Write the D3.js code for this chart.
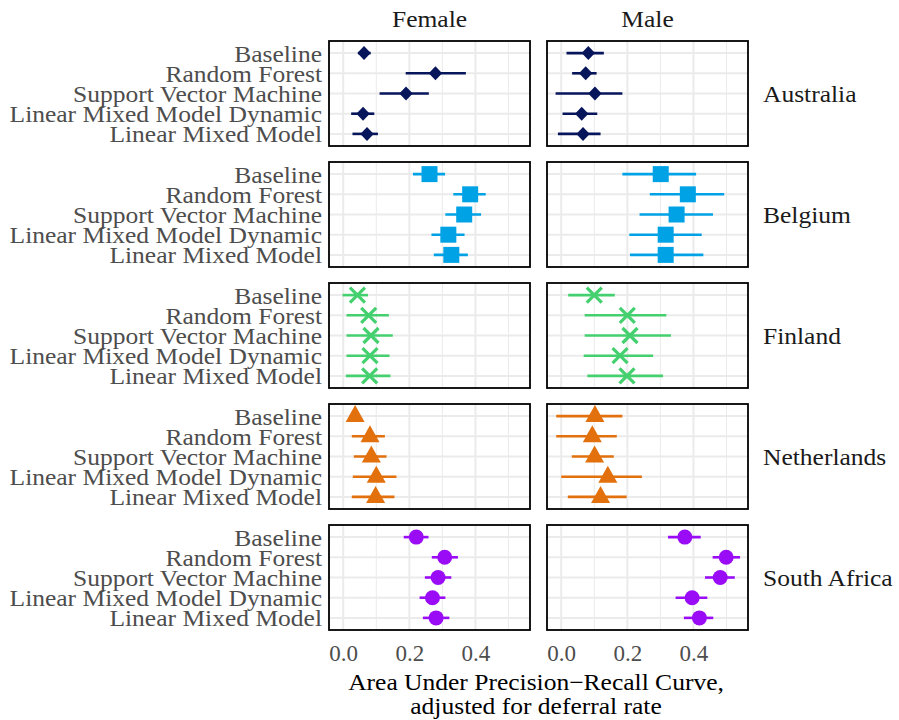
<!DOCTYPE html>
<html>
<head>
<meta charset="utf-8">
<script src="https://cdn.jsdelivr.net/npm/d3@7/dist/d3.min.js"></script>
<style>
  body { margin: 0; background: #fff; }
  svg { display: block; }
</style>
</head>
<body>
<div id="chart"></div>
<script>
// categories
var countries = ['Australia', 'Belgium', 'Finland', 'Netherlands', 'South Africa'];
var sexes     = ['Female', 'Male'];
var models    = ['Baseline', 'Random Forest', 'Support Vector Machine',
                 'Linear Mixed Model Dynamic', 'Linear Mixed Model'];
var xTicks    = [0, 0.2, 0.4];
var xMinor    = [0.1, 0.3, 0.5];

// estimates + interval bounds, one row per country, one column per model
var estFemale = [
  [0.063, 0.279, 0.190, 0.060, 0.072],
  [0.261, 0.384, 0.366, 0.318, 0.327],
  [0.043, 0.077, 0.084, 0.081, 0.080],
  [0.036, 0.081, 0.085, 0.100, 0.098],
  [0.221, 0.307, 0.287, 0.270, 0.281]
];
var loFemale = [
  [0.045, 0.189, 0.110, 0.024, 0.028],
  [0.211, 0.333, 0.309, 0.267, 0.274],
  [-0.002, 0.010, 0.010, 0.010, 0.008],
  [0.022, 0.026, 0.032, 0.029, 0.026],
  [0.183, 0.268, 0.247, 0.231, 0.241]
];
var hiFemale = [
  [0.083, 0.371, 0.259, 0.094, 0.105],
  [0.308, 0.431, 0.417, 0.367, 0.377],
  [0.075, 0.138, 0.150, 0.140, 0.143],
  [0.050, 0.126, 0.131, 0.161, 0.155],
  [0.258, 0.347, 0.327, 0.309, 0.321]
];
var estMale = [
  [0.082, 0.074, 0.102, 0.062, 0.066],
  [0.301, 0.383, 0.349, 0.316, 0.316],
  [0.100, 0.200, 0.208, 0.178, 0.199],
  [0.102, 0.094, 0.101, 0.141, 0.119],
  [0.374, 0.499, 0.481, 0.396, 0.418]
];
var loMale = [
  [0.016, 0.033, -0.017, 0.004, -0.010],
  [0.185, 0.268, 0.237, 0.206, 0.208],
  [0.021, 0.071, 0.071, 0.068, 0.079],
  [-0.015, -0.015, 0.032, 0.000, 0.020],
  [0.323, 0.458, 0.435, 0.346, 0.371]
];
var hiMale = [
  [0.129, 0.107, 0.185, 0.109, 0.119],
  [0.408, 0.493, 0.459, 0.425, 0.430],
  [0.162, 0.318, 0.332, 0.278, 0.308],
  [0.185, 0.168, 0.159, 0.244, 0.198],
  [0.422, 0.541, 0.525, 0.442, 0.460]
];

var colors = ['#07155b', '#00a2e6', '#45d06f', '#e2700c', '#9a0cf6'];
var shapes = ['diamond', 'square', 'cross', 'triangle', 'circle'];

var width = 899, height = 720;
var FONT = '"Liberation Serif", "Times New Roman", serif';
var SX = 1.11;   // widen the serif a little, closer to the LaTeX look

var panelX = [329, 547], panelW = 201;
var panelY0 = 41, panelH = 105, panelStep = 121;
var xDomain = [-0.043, 0.565];

var svg = d3.select('#chart').append('svg')
  .attr('width', width)
  .attr('height', height);

function stretchText(sel, x, y, str, anchor, fill) {
  return sel.append('text')
    .attr('transform', 'translate(' + x + ',' + y + ') scale(' + SX + ',1)')
    .attr('text-anchor', anchor)
    .attr('font-family', FONT)
    .attr('font-size', 23)
    .attr('fill', fill)
    .text(str);
}

function drawMarker(g, shape, cx, cy, color) {
  if (shape === 'diamond') {
    g.append('path')
      .attr('d', 'M' + cx + ',' + (cy - 7) + 'L' + (cx + 6.7) + ',' + cy +
                 'L' + cx + ',' + (cy + 7) + 'L' + (cx - 6.7) + ',' + cy + 'Z')
      .attr('fill', color);
  } else if (shape === 'square') {
    g.append('rect')
      .attr('x', cx - 8).attr('y', cy - 8)
      .attr('width', 16).attr('height', 16)
      .attr('fill', color);
  } else if (shape === 'cross') {
    var r = 7.5;
    g.append('path')
      .attr('d', 'M' + (cx - r) + ',' + (cy - r) + 'L' + (cx + r) + ',' + (cy + r) +
                 'M' + (cx - r) + ',' + (cy + r) + 'L' + (cx + r) + ',' + (cy - r))
      .attr('stroke', color)
      .attr('stroke-width', 3.2)
      .attr('fill', 'none');
  } else if (shape === 'triangle') {
    g.append('path')
      .attr('d', 'M' + cx + ',' + (cy - 11) + 'L' + (cx + 9.5) + ',' + (cy + 6) +
                 'L' + (cx - 9.5) + ',' + (cy + 6) + 'Z')
      .attr('fill', color);
  } else {
    g.append('circle')
      .attr('cx', cx).attr('cy', cy).attr('r', 7.5)
      .attr('fill', color);
  }
}

var xScales = sexes.map(function (s, j) {
  return d3.scaleLinear().domain(xDomain).range([panelX[j], panelX[j] + panelW]);
});

var est = [estFemale, estMale], lo = [loFemale, loMale], hi = [hiFemale, hiMale];

countries.forEach(function (country, i) {
  var top = panelY0 + i * panelStep;
  var y = d3.scalePoint().domain(models).range([top, top + panelH]).padding(0.6);

  sexes.forEach(function (sex, j) {
    var x = xScales[j];
    var g = svg.append('g').attr('class', 'panel');

    // grid
    g.selectAll('.minor').data(xMinor).enter().append('line')
      .attr('x1', function (d) { return x(d); }).attr('x2', function (d) { return x(d); })
      .attr('y1', top).attr('y2', top + panelH)
      .attr('stroke', '#ebebeb').attr('stroke-width', 1);
    g.selectAll('.major').data(xTicks).enter().append('line')
      .attr('x1', function (d) { return x(d); }).attr('x2', function (d) { return x(d); })
      .attr('y1', top).attr('y2', top + panelH)
      .attr('stroke', '#ebebeb').attr('stroke-width', 2);
    g.selectAll('.hgrid').data(models).enter().append('line')
      .attr('x1', panelX[j]).attr('x2', panelX[j] + panelW)
      .attr('y1', function (d) { return y(d); }).attr('y2', function (d) { return y(d); })
      .attr('stroke', '#ebebeb').attr('stroke-width', 2);

    // whiskers + points
    models.forEach(function (m, k) {
      g.append('line')
        .attr('x1', x(lo[j][i][k])).attr('x2', x(hi[j][i][k]))
        .attr('y1', y(m)).attr('y2', y(m))
        .attr('stroke', colors[i])
        .attr('stroke-width', 2.6);
      drawMarker(g, shapes[i], x(est[j][i][k]), y(m), colors[i]);
    });

    g.append('rect')
      .attr('x', panelX[j]).attr('y', top)
      .attr('width', panelW).attr('height', panelH)
      .attr('fill', 'none')
      .attr('stroke', '#000')
      .attr('stroke-width', 1.8);

    // model names only on the left column
    if (j === 0) {
      models.forEach(function (m) {
        stretchText(svg, 322, y(m) + 8.5, m, 'end', '#4d4d4d');
      });
    }
  });

  // right strip
  stretchText(svg, 763, top + panelH / 2 + 8.5, country, 'start', '#1a1a1a');
});

// top strips
sexes.forEach(function (sex, j) {
  stretchText(svg, panelX[j] + panelW / 2, 27, sex, 'middle', '#1a1a1a');
});

// bottom axes
xScales.forEach(function (x) {
  svg.append('g')
    .attr('transform', 'translate(0,' + (panelY0 + 4 * panelStep + panelH) + ')')
    .call(d3.axisBottom(x).tickValues(xTicks).tickFormat(d3.format('.1f'))
      .tickSize(0).tickPadding(15))
    .call(function (g) { g.select('.domain').remove(); })
    .attr('font-family', FONT)
    .attr('font-size', 23)
    .attr('color', '#4d4d4d');
});

// axis title
stretchText(svg, 536, 690, 'Area Under Precision\u2212Recall Curve,', 'middle', '#000');
stretchText(svg, 536, 714, 'adjusted for deferral rate', 'middle', '#000');
</script>
</body>
</html>
